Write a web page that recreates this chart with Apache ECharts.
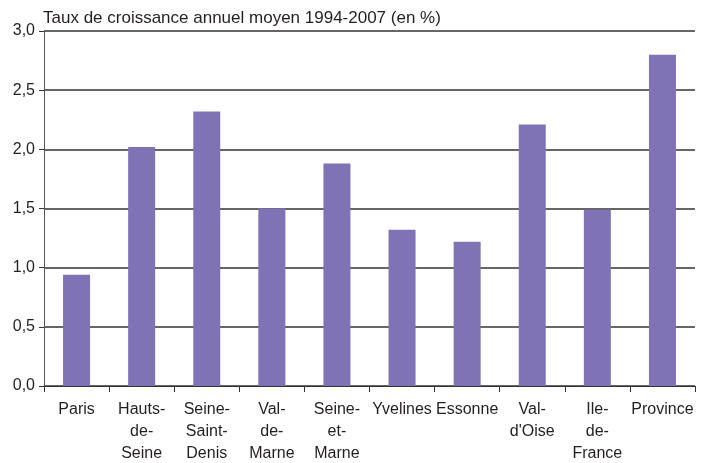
<!DOCTYPE html>
<html lang="fr">
<head>
	<meta charset="UTF-8">
	<title>Taux de croissance</title>
	<style type="text/css">
	body,html{
		width: 100%;
		height: 100%;
		margin: 0;
		padding: 0;
		background: #fff;
	}
	#container{
		width: 704px;
		height: 463px;
	}
	</style>
</head>
<body>
<div id="container"></div>
<script type="text/javascript" src="https://cdn.jsdelivr.net/npm/echarts@6/dist/echarts.min.js"></script>
<script type="text/javascript">
	// libellés des départements (retours à la ligne comme sur l'original)
	var categories = ['Paris', 'Hauts-\nde-\nSeine', 'Seine-\nSaint-\nDenis', 'Val-\nde-\nMarne', 'Seine-\net-\nMarne',
		'Yvelines', 'Essonne', 'Val-\nd\'Oise', 'Ile-\nde-\nFrance', 'Province'];
	var values = [0.94, 2.02, 2.32, 1.50, 1.88, 1.32, 1.22, 2.21, 1.49, 2.80];
	var yTicks = [0, 0.5, 1, 1.5, 2, 2.5, 3];

	var textColor = '#231f20';
	var font = 'Liberation Sans, Arial, sans-serif';

	var option = {
		backgroundColor: '#fff',
		animation: false,
		title: {
			text: 'Taux de croissance annuel moyen 1994-2007 (en %)',
			left: 38,
			top: 5,
			textStyle: {
				color: textColor,
				fontFamily: font,
				fontSize: 17,
				fontWeight: 'normal'
			}
		},
		grid: {
			left: 44,
			right: 9,
			top: 31,
			bottom: 77,
			containLabel: false,
			outerBoundsMode: 'none'
		},
		xAxis: {
			type: 'category',
			data: categories,
			boundaryGap: true,
			axisLine: { lineStyle: { color: '#333', width: 1 } },
			axisTick: { show: true, length: 6, alignWithLabel: false, lineStyle: { color: '#333' } },
			axisLabel: {
				color: textColor,
				fontFamily: font,
				fontSize: 16,
				lineHeight: 22,
				margin: 13,
				interval: 0
			}
		},
		yAxis: {
			type: 'value',
			min: yTicks[0],
			max: yTicks[yTicks.length - 1],
			interval: 0.5,
			axisLine: { show: true, lineStyle: { color: '#555', width: 1 } },
			axisTick: { show: true, length: 5, lineStyle: { color: '#333' } },
			axisLabel: {
				color: textColor,
				fontFamily: font,
				fontSize: 16,
				margin: 9,
				formatter: function (v) {
					return v.toFixed(1).replace('.', ',');
				}
			},
			splitLine: { show: true, lineStyle: { color: '#333', width: 1.5 } }
		},
		series: [{
			type: 'bar',
			data: values,
			barWidth: 27,
			itemStyle: { color: '#7f72b5' }
		}]
	};
	var chart = echarts.init(document.getElementById('container'));
	chart.setOption(option);
</script>
</body>
</html>
